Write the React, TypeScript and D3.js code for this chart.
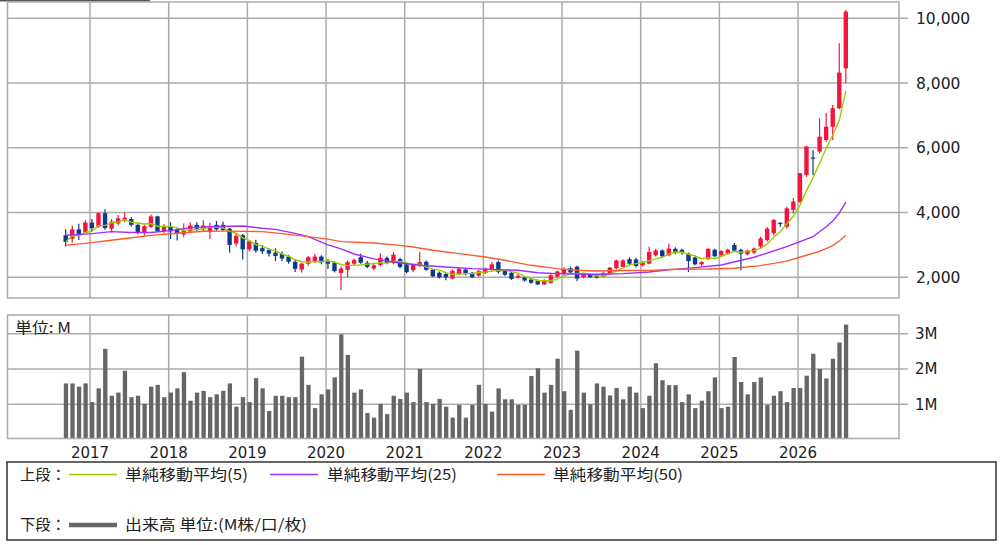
import * as d3 from 'd3';
import React from 'react';

// monthly candles, Sep 2016 .. Aug 2026
const firstMonth = new Date(2016, 8, 1);
const monthCount = 120;
const years = ['2017', '2018', '2019', '2020', '2021', '2022', '2023', '2024', '2025', '2026'];

const opens = [
  3300, 3190, 3480, 3380, 3690, 3560, 3980, 3500, 3660, 3760, 3800, 3620, 3380, 3560, 3880, 3420, 3560, 3480, 3320, 3420,
  3620, 3480, 3420, 3620, 3620, 3500, 3040, 3300, 2860, 3060, 2900, 2840, 2760, 2720, 2640, 2480, 2240, 2420, 2500, 2640,
  2500, 2450, 2130, 2230, 2420, 2620, 2450, 2270, 2380, 2600, 2440, 2560, 2400, 2220, 2370, 2480, 2230, 2140, 2100, 1960,
  2100, 2240, 2140, 2050, 2130, 2240, 2470, 2200, 2140, 1990, 2000, 1930, 1900, 1780, 1830, 2020, 2100, 2280, 2330, 2000,
  2080, 2060, 2010, 2100, 2280, 2320, 2560, 2550, 2370, 2420, 2680, 2830, 2680, 2880, 2850, 2730, 2610, 2400, 2560, 2850,
  2680, 2730, 3000, 2850, 2710, 2760, 2950, 3150, 3360, 3680, 3560, 4080, 4330, 5160, 5700, 5880, 6240, 6650, 7220, 8450,
];
const highs = [
  3480, 3590, 3650, 3760, 3800, 4000, 4100, 3800, 3920, 4000, 3860, 3680, 3620, 3940, 3900, 3640, 3700, 3520, 3660, 3700,
  3700, 3760, 3680, 3740, 3720, 3520, 3340, 3340, 3140, 3160, 3000, 2900, 2900, 2800, 2700, 2560, 2460, 2660, 2720, 2680,
  2560, 2500, 2330, 2520, 2580, 2730, 2500, 2420, 2740, 2640, 2780, 2600, 2440, 2420, 2780, 2520, 2260, 2180, 2130, 2240,
  2320, 2280, 2160, 2230, 2300, 2470, 2520, 2230, 2170, 2100, 2030, 1960, 1930, 1940, 2100, 2210, 2300, 2330, 2360, 2120,
  2110, 2090, 2160, 2320, 2540, 2560, 2620, 2600, 2500, 2940, 2880, 2860, 3040, 2930, 2880, 2760, 2640, 2500, 2900, 2880,
  2840, 2880, 3060, 2880, 2860, 2920, 3250, 3550, 3800, 3700, 4180, 4450, 5220, 6060, 5930, 6910, 7070, 7320, 9230, 10250,
];
const lows = [
  2960, 3070, 3150, 3380, 3420, 3530, 3470, 3380, 3600, 3700, 3560, 3330, 3280, 3520, 3400, 3360, 3180, 3140, 3240, 3380,
  3440, 3400, 3180, 3440, 3440, 2760, 2960, 2550, 2800, 2760, 2720, 2640, 2500, 2500, 2420, 2160, 2150, 2360, 2440, 2400,
  2260, 2150, 1600, 2010, 2360, 2420, 2280, 2220, 2340, 2400, 2400, 2280, 2120, 2160, 2320, 2200, 2000, 1960, 1910, 1940,
  2060, 2060, 1980, 2020, 2100, 2200, 2120, 2040, 1920, 1960, 1870, 1800, 1760, 1760, 1800, 1990, 2060, 2120, 1880, 1970,
  1980, 1960, 1990, 2080, 2250, 2300, 2380, 2300, 2330, 2400, 2640, 2600, 2650, 2720, 2700, 2160, 2370, 2350, 2540, 2620,
  2640, 2700, 2790, 2220, 2680, 2720, 2900, 3100, 3300, 3560, 3500, 3980, 4300, 5100, 5160, 5820, 6180, 6240, 7200, 7990,
];
const closes = [
  3090, 3480, 3300, 3690, 3520, 3980, 3520, 3720, 3820, 3840, 3620, 3380, 3580, 3880, 3420, 3560, 3420, 3360, 3460, 3600,
  3500, 3600, 3580, 3480, 3460, 3000, 3280, 2860, 3100, 2820, 2800, 2730, 2660, 2580, 2480, 2260, 2420, 2620, 2640, 2460,
  2420, 2190, 2270, 2470, 2530, 2450, 2320, 2370, 2600, 2440, 2700, 2320, 2160, 2380, 2470, 2230, 2030, 2000, 2000, 2200,
  2260, 2100, 2000, 2190, 2270, 2400, 2170, 2080, 1950, 2050, 1900, 1830, 1780, 1900, 2060, 2180, 2250, 2150, 1960, 2080,
  2010, 1990, 2130, 2300, 2520, 2520, 2420, 2350, 2470, 2780, 2830, 2650, 2890, 2750, 2750, 2500, 2400, 2470, 2880, 2650,
  2810, 2850, 2820, 2730, 2830, 2890, 3200, 3500, 3770, 3660, 4130, 4340, 5210, 6040, 5670, 6340, 6650, 7220, 8320, 10200,
];

// volume in millions
const volumes = [
  1.59, 1.59, 1.5, 1.59, 1.06, 1.45, 2.57, 1.24, 1.33, 1.95, 1.2, 1.24, 1.01, 1.5, 1.55, 1.2, 1.33, 1.45, 1.91, 1.1,
  1.33, 1.38, 1.2, 1.28, 1.38, 1.59, 0.93, 1.2, 1.06, 1.74, 1.45, 0.81, 1.24, 1.24, 1.2, 1.2, 2.35, 1.55, 0.89, 1.28,
  1.42, 1.76, 2.98, 2.4, 1.33, 1.42, 0.75, 0.62, 1.01, 0.72, 1.24, 1.15, 1.33, 1.06, 2.0, 1.06, 1.01, 1.15, 0.93, 0.62,
  0.98, 0.62, 0.98, 1.55, 1.01, 0.79, 1.45, 1.14, 1.14, 0.98, 0.98, 1.8, 2.02, 1.33, 1.55, 2.29, 1.37, 0.84, 2.52, 1.33,
  1.0, 1.59, 1.5, 1.25, 1.46, 1.14, 1.5, 1.33, 0.89, 1.24, 2.16, 1.68, 1.54, 1.54, 1.06, 1.28, 0.89, 1.1, 1.37, 1.76,
  0.89, 0.93, 2.34, 1.63, 1.28, 1.63, 1.76, 0.98, 1.24, 1.37, 1.06, 1.46, 1.46, 1.81, 2.43, 2.0, 1.73, 2.29, 2.75, 3.26,
];

// moving averages: [month index, value]
const ma25 = [
  [0, 3300], [4, 3350], [7, 3410], [10, 3385], [13, 3385], [16, 3440], [19, 3535], [22, 3565], [27, 3585], [30, 3515],
  [32, 3480], [35, 3355], [37, 3255], [40, 3000], [42, 2880], [44, 2720], [47, 2570], [51, 2440], [54, 2370], [58, 2320],
  [62, 2267], [66, 2237], [69, 2216], [72, 2140], [75, 2113], [79, 2092], [82, 2092], [85, 2113], [89, 2164], [92, 2230],
  [96, 2300], [100, 2380], [105, 2620], [110, 2945], [114, 3254], [116, 3560], [117, 3740], [118, 3980], [119, 4320],
];
const ma50 = [
  [0, 2985], [4, 3070], [6, 3120], [10, 3220], [13, 3295], [16, 3345], [21, 3420], [25, 3425], [30, 3410], [33, 3350],
  [37, 3255], [40, 3180], [42, 3100], [47, 3060], [51, 2985], [53, 2935], [56, 2834], [60, 2731], [64, 2628], [67, 2525],
  [71, 2370], [75, 2267], [78, 2216], [81, 2195], [85, 2210], [89, 2215], [93, 2250], [98, 2255], [102, 2280], [106, 2360],
  [110, 2500], [113, 2680], [115, 2800], [117, 2980], [118, 3120], [119, 3300],
];

const priceTicks = [2000, 4000, 6000, 8000, 10000];
const volumeTicks = [1, 2, 3];

const UP = '#f5143f';
const DOWN = '#0b3a8f';
const GRID = '#ababab';
const MA_COLORS = ['#9acd00', '#9b30ff', '#ff5a2a'];

const left = 7.5;
const right = 899;
const main = { top: 2, bottom: 298 };
const vol = { top: 315, bottom: 438.5 };

const App = () => {
  const x = d3.scaleLinear().domain([0, monthCount]).range([63.8, 63.8 + monthCount * 6.5556]);
  const yPrice = d3.scaleLinear().domain([2000, 10000]).range([277.3, 18.2]);
  const yVol = d3.scaleLinear().domain([0, 3]).range([439.5, 333.7]);

  const cx = (i) => x(i) + 1.9;
  const yearIdx = years.map((y) => d3.timeMonth.count(firstMonth, new Date(+y, 0, 1)));

  const ma5 = closes.map((c, i) => d3.mean(closes.slice(Math.max(0, i - 4), i + 1)));
  const line = d3
    .line<number[]>()
    .x((d) => cx(d[0]))
    .y((d) => yPrice(d[1]));
  const maSeries = [ma5.map((v, i) => [i, v]), ma25, ma50];

  const numFmt = d3.format(',');
  const sans = '"DejaVu Sans", Verdana, sans-serif';
  const jp = '"Noto Sans CJK JP", "DejaVu Sans", sans-serif';

  return (
    <svg width={1000} height={545} style={{ position: 'absolute', left: 0, top: 0, background: '#fff' }}>
      <defs>
        <clipPath id="mainClip">
          <rect x={left} y={main.top} width={right - left} height={main.bottom - main.top} />
        </clipPath>
      </defs>
      <line x1={0} x2={150} y1={0.75} y2={0.75} stroke="#555" strokeWidth={1.5} />

      {/* price panel */}
      <g>
        {priceTicks.map((t) => (
          <g key={t}>
            <line x1={left} x2={908} y1={yPrice(t)} y2={yPrice(t)} stroke={GRID} strokeWidth={1.5} />
            <text x={916} y={yPrice(t)} dy="0.36em" fontFamily={sans} fontSize={15.5} fill="#222">
              {numFmt(t)}
            </text>
          </g>
        ))}
        {yearIdx.map((i, k) => (
          <line key={k} x1={x(i)} x2={x(i)} y1={main.top} y2={main.bottom} stroke={GRID} strokeWidth={1.5} />
        ))}
        <rect x={left} y={main.top} width={right - left} height={main.bottom - main.top} fill="none" stroke={GRID} strokeWidth={1.5} />

        <g clipPath="url(#mainClip)">
          {closes.map((c, i) => {
            const o = opens[i];
            const color = c >= o ? UP : DOWN;
            const top = yPrice(Math.max(o, c));
            const h = Math.max(1.2, yPrice(Math.min(o, c)) - top);
            return (
              <g key={i}>
                <line x1={cx(i)} x2={cx(i)} y1={yPrice(highs[i])} y2={yPrice(lows[i])} stroke={color} strokeWidth={1.2} />
                <rect x={cx(i) - 2.2} y={top} width={4.4} height={h} fill={color} />
              </g>
            );
          })}
          {maSeries.map((s, k) => (
            <path key={k} d={line(s as number[][]) || ''} fill="none" stroke={MA_COLORS[k]} strokeWidth={1.4} />
          ))}
        </g>
      </g>

      {/* volume panel */}
      <g>
        {volumeTicks.map((t) => (
          <g key={t}>
            <line x1={left} x2={908} y1={yVol(t)} y2={yVol(t)} stroke={GRID} strokeWidth={1.5} />
            <text x={915} y={yVol(t)} dy="0.36em" fontFamily={sans} fontSize={15} fill="#222">
              {t}M
            </text>
          </g>
        ))}
        {yearIdx.map((i, k) => (
          <line key={k} x1={x(i)} x2={x(i)} y1={vol.top} y2={vol.bottom} stroke={GRID} strokeWidth={1.5} />
        ))}
        {volumes.map((v, i) => (
          <rect key={i} x={x(i)} y={yVol(v)} width={4.3} height={vol.bottom - yVol(v)} fill="#666" />
        ))}
        <rect x={left} y={vol.top} width={right - left} height={vol.bottom - vol.top} fill="none" stroke={GRID} strokeWidth={1.5} />
        <text x={15} y={333} fontFamily={jp} fontSize={15} fill="#222" textLength={56} lengthAdjust="spacingAndGlyphs">
          単位: M
        </text>
        {yearIdx.map((i, k) => (
          <text key={k} x={x(i)} y={457.5} textAnchor="middle" fontFamily={sans} fontSize={15} fill="#222">
            {years[k]}
          </text>
        ))}
      </g>

      {/* legend */}
      <g fontFamily={jp} fontSize={15} fill="#222">
        <rect x={7} y={462} width={989} height={78} fill="#fff" stroke="#333" strokeWidth={1.5} />
        <text x={20} y={480} textLength={46} lengthAdjust="spacingAndGlyphs">上段：</text>
        <line x1={69} x2={117} y1={474.5} y2={474.5} stroke={MA_COLORS[0]} strokeWidth={1.5} />
        <text x={125} y={480} textLength={123} lengthAdjust="spacingAndGlyphs">単純移動平均(5)</text>
        <line x1={270} x2={318} y1={474.5} y2={474.5} stroke={MA_COLORS[1]} strokeWidth={1.5} />
        <text x={327} y={480} textLength={130} lengthAdjust="spacingAndGlyphs">単純移動平均(25)</text>
        <line x1={497} x2={545} y1={474.5} y2={474.5} stroke={MA_COLORS[2]} strokeWidth={1.5} />
        <text x={553} y={480} textLength={130} lengthAdjust="spacingAndGlyphs">単純移動平均(50)</text>
        <text x={20} y={530} textLength={46} lengthAdjust="spacingAndGlyphs">下段：</text>
        <line x1={69} x2={117} y1={525} y2={525} stroke="#666" strokeWidth={4.3} />
        <text x={125} y={530} textLength={182} lengthAdjust="spacingAndGlyphs">出来高 単位:(M株/口/枚)</text>
      </g>
    </svg>
  );
};

export default App;
